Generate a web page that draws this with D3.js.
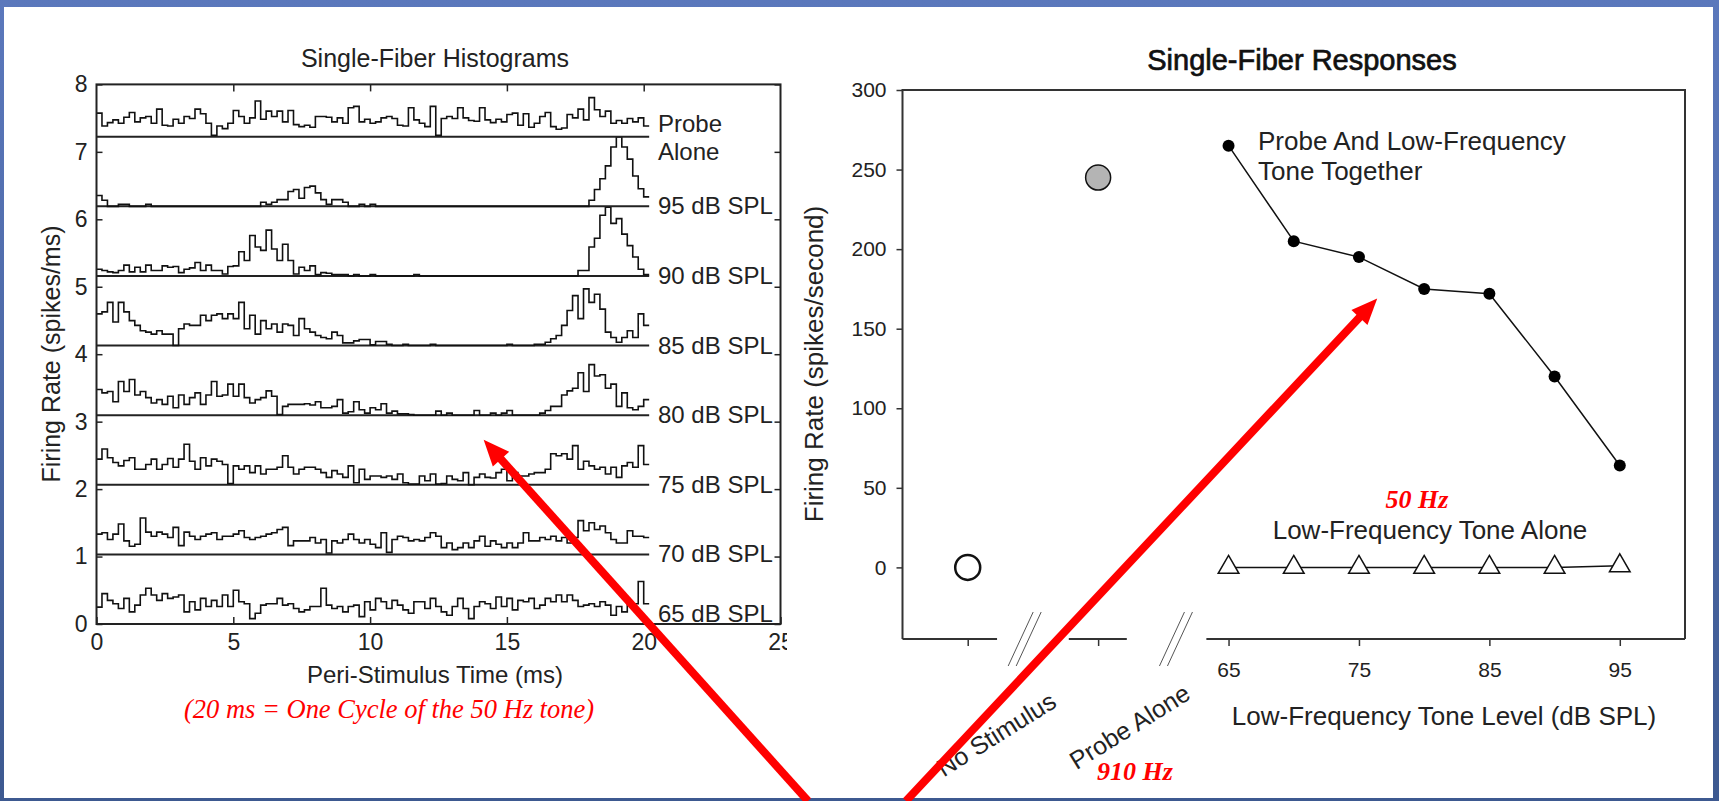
<!DOCTYPE html>
<html>
<head>
<meta charset="utf-8">
<script src="https://cdn.jsdelivr.net/npm/d3@7"></script>
<style>
  body { margin: 0; background: #fff; }
  svg { display: block; }
</style>
</head>
<body>
<svg id="chart" width="1719" height="801"></svg>
<script>
// ---- left panel: peri-stimulus time histograms, 0.2 ms bins, values in spikes/ms above each row baseline
const binWidth = 0.2;
const psthTicks = [0, 5, 10, 15, 20, 25];
const rateTicks = [0, 1, 2, 3, 4, 5, 6, 7, 8];

const probeAlone = [0.35,0.16,0.21,0.25,0.2,0.29,0.36,0.22,0.28,0.3,
  0.2,0.41,0.17,0.16,0.26,0.2,0.3,0.27,0.41,0.34,
  0.2,0.02,0.16,0.12,0.2,0.39,0.3,0.2,0.28,0.53,
  0.26,0.38,0.3,0.38,0.22,0.39,0.18,0.15,0.17,0.14,
  0.3,0.3,0.29,0.22,0.28,0.2,0.43,0.45,0.22,0.26,
  0.2,0.22,0.28,0.3,0.27,0.17,0.16,0.43,0.25,0.2,
  0.15,0.45,0.02,0.27,0.3,0.27,0.43,0.28,0.24,0.23,
  0.43,0.25,0.21,0.26,0.22,0.33,0.35,0.17,0.34,0.14,
  0.2,0.3,0.36,0.15,0.11,0.13,0.33,0.28,0.41,0.25,
  0.58,0.4,0.3,0.38,0.2,0.24,0.2,0.27,0.22,0.28,
  0.16];
const db95 = [0.16,0.09,0,0,0.03,0.03,0,0,0,0.03,
  0,0,0,0,0,0,0,0,0,0,
  0,0,0,0,0,0,0,0,0,0,
  0.06,0.03,0.06,0.1,0.1,0.22,0.25,0.12,0.28,0.3,
  0.2,0.1,0.03,0.1,0.1,0.06,0,0,0.03,0,
  0.03,0,0,0,0,0,0,0,0,0,
  0,0,0,0,0,0,0,0,0,0,
  0,0,0,0,0,0,0,0,0,0,
  0,0,0,0,0,0,0,0,0,0,
  0.09,0.25,0.41,0.6,0.88,1.03,0.88,0.7,0.45,0.26,
  0.14];
const db90 = [0.1,0.08,0.06,0.05,0.08,0.16,0.06,0.13,0.06,0.16,
  0.08,0.08,0.15,0.13,0.14,0.05,0.1,0.12,0.2,0.08,
  0.16,0.08,0.08,0.03,0.14,0.15,0.36,0.23,0.6,0.43,
  0.38,0.68,0.4,0.23,0.47,0.23,0.03,0.13,0.08,0.15,
  0.02,0.05,0.04,0.02,0.02,0.02,0,0.02,0,0,
  0.02,0,0,0,0,0,0,0,0.02,0,
  0,0,0,0,0,0,0,0,0,0,
  0,0,0,0,0,0,0,0,0,0,
  0,0,0,0,0,0,0,0,0.08,0.08,
  0.43,0.56,0.9,1.02,0.78,0.85,0.62,0.45,0.28,0.1,
  0.02];
const db85 = [0.47,0.5,0.64,0.35,0.64,0.5,0.37,0.3,0.22,0.2,
  0.17,0.22,0.17,0.17,0,0.25,0.32,0.3,0.3,0.45,
  0.37,0.45,0.47,0.4,0.47,0.4,0.64,0.25,0.45,0.17,
  0.37,0.25,0.32,0.2,0.32,0.3,0.15,0.4,0.25,0.2,
  0.15,0.12,0.1,0.2,0.15,0.04,0.04,0.07,0.09,0.09,
  0.01,0.06,0.06,0.02,0,0,0.02,0,0,0,
  0,0.02,0,0,0,0,0,0,0,0,
  0,0,0,0,0,0.02,0,0,0,0,
  0.02,0.02,0.05,0.1,0.15,0.3,0.52,0.74,0.4,0.84,
  0.64,0.76,0.54,0.2,0.12,0.05,0.12,0.22,0.12,0.47,
  0.3];
const db80 = [0.38,0.33,0.35,0.2,0.5,0.35,0.53,0.3,0.35,0.26,
  0.18,0.23,0.16,0.28,0.11,0.3,0.16,0.26,0.33,0.16,
  0.3,0.5,0.28,0.3,0.46,0.28,0.46,0.26,0.18,0.23,
  0.26,0.36,0.28,0.01,0.13,0.16,0.16,0.16,0.17,0.15,
  0.2,0.11,0.11,0.13,0.23,0.03,0.05,0.2,0.08,0.03,
  0.11,0.08,0.17,0.03,0.06,0.02,0.02,0.01,0,0,
  0,0,0.06,0,0.03,0,0,0,0,0.07,
  0,0,0.03,0,0.03,0.07,0,0,0,0,
  0,0.03,0.07,0.13,0.13,0.3,0.36,0.4,0.63,0.35,
  0.75,0.58,0.6,0.4,0.46,0.13,0.33,0.11,0.08,0.13,
  0.23];
const db75 = [0.38,0.53,0.4,0.33,0.28,0.36,0.4,0.23,0.23,0.3,
  0.38,0.23,0.3,0.39,0.26,0.38,0.6,0.35,0.23,0.4,
  0.28,0.38,0.35,0.3,0.02,0.28,0.23,0.28,0.18,0.28,
  0.16,0.23,0.23,0.26,0.43,0.26,0.16,0.23,0.26,0.26,
  0.23,0.18,0.11,0.21,0.16,0.11,0.28,0.03,0.23,0.08,
  0.13,0.13,0.11,0.13,0.08,0.16,0.03,0.01,0.01,0.13,
  0.06,0.16,0.01,0.02,0.13,0.08,0.06,0.18,0,0.11,
  0.16,0.11,0.1,0.18,0.23,0.06,0.18,0.13,0.13,0.16,
  0.18,0.18,0.23,0.46,0.43,0.46,0.38,0.58,0.23,0.35,
  0.28,0.23,0.26,0.16,0.26,0.11,0.28,0.33,0.26,0.58,
  0.3];
const db70 = [0.3,0.32,0.22,0.3,0.45,0.2,0.12,0.15,0.54,0.33,
  0.27,0.33,0.3,0.25,0.4,0.13,0.33,0.27,0.22,0.27,
  0.3,0.32,0.22,0.27,0.27,0.3,0.35,0.25,0.22,0.25,
  0.27,0.3,0.32,0.37,0.4,0.13,0.2,0.2,0.2,0.25,
  0.17,0.22,0.02,0.2,0.17,0.22,0.3,0.22,0.17,0.22,
  0.15,0.1,0.32,0.03,0.22,0.27,0.25,0.2,0.22,0.2,
  0.25,0.32,0.27,0.1,0.17,0.07,0.1,0.17,0.1,0.2,
  0.27,0.12,0.2,0.15,0.1,0.17,0.1,0.17,0.32,0.2,
  0.2,0.25,0.22,0.27,0.2,0.25,0.17,0.25,0.5,0.35,
  0.47,0.37,0.42,0.32,0.22,0.17,0.17,0.35,0.27,0.27,
  0.25];
const db65 = [0.25,0.45,0.35,0.3,0.23,0.38,0.18,0.28,0.43,0.53,
  0.43,0.35,0.45,0.38,0.4,0.43,0.18,0.33,0.21,0.38,
  0.26,0.35,0.26,0.43,0.26,0.5,0.33,0.3,0.08,0.16,
  0.28,0.3,0.3,0.38,0.28,0.3,0.23,0.18,0.21,0.26,
  0.26,0.53,0.28,0.23,0.26,0.18,0.26,0.28,0.11,0.33,
  0.21,0.38,0.33,0.23,0.35,0.28,0.21,0.16,0.33,0.33,
  0.23,0.38,0.26,0.18,0.13,0.26,0.38,0.23,0.08,0.26,
  0.33,0.3,0.23,0.4,0.26,0.38,0.21,0.35,0.33,0.38,
  0.23,0.28,0.38,0.33,0.43,0.33,0.43,0.35,0.26,0.28,
  0.3,0.26,0.33,0.28,0.13,0.26,0.18,0.3,0.3,0.63,
  0.3];

// bottom row first
const histRows = [db65, db70, db75, db80, db85, db90, db95, probeAlone];
const histLabels = [['65 dB SPL'], ['70 dB SPL'], ['75 dB SPL'], ['80 dB SPL'], ['85 dB SPL'],
  ['90 dB SPL'], ['95 dB SPL'], ['Probe', 'Alone']];

// ---- right panel: average rates
const toneLevels = [65, 70, 75, 80, 85, 90, 95];
const rateTogether = [265, 205, 195, 175, 172, 120, 64];
const rateToneAlone = [0, 0, 0, 0, 0, 0, 1];
const controlNames = ['No Stimulus', 'Probe Alone'];
const controlRates = [0, 245];
const responseTicks = [0, 50, 100, 150, 200, 250, 300];
const levelTicks = [65, 75, 85, 95];

const W = 1719, H = 801;
const svg = d3.select('#chart')
  .attr('font-family', 'Liberation Sans, Arial, sans-serif');
const defs = svg.append('defs');

// slide frame
const grad = defs.append('linearGradient').attr('id', 'frame')
  .attr('x1', 0).attr('y1', 0).attr('x2', 0).attr('y2', 1);
grad.append('stop').attr('offset', '0%').attr('stop-color', '#5b78bc');
grad.append('stop').attr('offset', '100%').attr('stop-color', '#3d5990');
svg.append('rect').attr('width', W).attr('height', H).attr('fill', 'url(#frame)');
svg.append('rect').attr('x', 4).attr('y', 7).attr('width', W - 10).attr('height', H - 10).attr('fill', '#fff');

function label(g, x, y, str, o) {
  o = o || {};
  const t = g.append('text').attr('x', x).attr('y', y).text(str)
    .attr('font-size', o.size || 24)
    .attr('text-anchor', o.anchor || 'start')
    .attr('fill', o.fill || '#222');
  if (o.family) t.attr('font-family', o.family);
  if (o.style) t.attr('font-style', o.style);
  if (o.weight) t.attr('font-weight', o.weight);
  if (o.heavy) t.attr('stroke', t.attr('fill')).attr('stroke-width', o.heavy);
  if (o.width) t.attr('textLength', o.width).attr('lengthAdjust', 'spacingAndGlyphs');
  if (o.rotate) t.attr('transform', 'rotate(' + o.rotate + ',' + x + ',' + y + ')');
  return t;
}

function styleAxis(g, size) {
  g.select('.domain').remove();
  g.selectAll('line').attr('stroke', '#222').attr('stroke-width', 1.5);
  g.selectAll('text').attr('font-size', size).attr('fill', '#222').attr('font-family', null);
}

// ================= left panel =================
const xL = d3.scaleLinear().domain([0, 25]).range([96.5, 780.5]);
const yL = d3.scaleLinear().domain([0, 8]).range([624, 84.4]);
defs.append('clipPath').attr('id', 'clipL')
  .append('rect').attr('x', 0).attr('y', 0).attr('width', 787).attr('height', H);
const gL = svg.append('g').attr('clip-path', 'url(#clipL)');

const rowStep = 1.032;
const step = d3.line()
  .x(function (d) { return xL(d[0]); })
  .y(function (d) { return yL(d[1]); })
  .curve(d3.curveStepAfter);

histRows.forEach(function (vals, k) {
  const base = k * rowStep;
  const end = vals.length * binWidth;
  const pts = vals.map(function (v, i) { return [i * binWidth, base + v]; });
  pts.push([end, base + vals[vals.length - 1]]);
  gL.append('line')
    .attr('x1', xL(0)).attr('x2', xL(end))
    .attr('y1', yL(base)).attr('y2', yL(base))
    .attr('stroke', '#222').attr('stroke-width', 2);
  gL.append('path').attr('d', step(pts))
    .attr('fill', 'none').attr('stroke', '#111').attr('stroke-width', 1.6);

  const lines = histLabels[k];
  if (lines.length === 2) {
    label(gL, 658, 132, lines[0], { size: 24 });
    label(gL, 658, 160, lines[1], { size: 24 });
  } else {
    const dy = k === 0 ? -2 : 8;
    label(gL, 658, yL(base) + dy, lines[0], { size: 24 });
  }
});

const axB = gL.append('g').attr('transform', 'translate(0,' + yL(0) + ')')
  .call(d3.axisBottom(xL).tickValues(psthTicks).tickSize(-7).tickPadding(10));
styleAxis(axB, 23);
const axT = gL.append('g').attr('transform', 'translate(0,' + yL(8) + ')')
  .call(d3.axisTop(xL).tickValues([5, 10, 15, 20]).tickSize(-7).tickFormat(''));
styleAxis(axT, 23);
const axLf = gL.append('g').attr('transform', 'translate(' + xL(0) + ',0)')
  .call(d3.axisLeft(yL).tickValues(rateTicks).tickSize(-6).tickPadding(9));
styleAxis(axLf, 23);
const axRt = gL.append('g').attr('transform', 'translate(' + xL(25) + ',0)')
  .call(d3.axisRight(yL).tickValues(rateTicks).tickSize(-6).tickFormat(''));
styleAxis(axRt, 23);

gL.append('rect')
  .attr('x', xL(0)).attr('y', yL(8))
  .attr('width', xL(25) - xL(0)).attr('height', yL(0) - yL(8))
  .attr('fill', 'none').attr('stroke', '#222').attr('stroke-width', 2);

label(gL, 435, 67, 'Single-Fiber Histograms', { size: 25, anchor: 'middle' });
label(gL, 435, 683, 'Peri-Stimulus Time (ms)', { size: 24, anchor: 'middle' });
label(gL, 60, 354, 'Firing Rate (spikes/ms)', { size: 25, anchor: 'middle', rotate: -90 });
label(svg, 389, 718, '(20 ms = One Cycle of the 50 Hz tone)', {
  size: 28, anchor: 'middle', family: 'Liberation Serif, Times New Roman, serif',
  style: 'italic', fill: '#ff0000', width: 410
});

// ================= right panel =================
const xR = d3.scaleLinear().domain([40, 100]).range([902.5, 1685]);
const yR = d3.scaleLinear().domain([-45, 300]).range([639, 90]);
const gR = svg.append('g');
const frameColor = '#333';

// box: left, top, right sides, broken bottom axis
gR.append('path')
  .attr('d', 'M' + xR(40) + ',' + yR(-45) + 'V' + yR(300) + 'H' + xR(100) + 'V' + yR(-45))
  .attr('fill', 'none').attr('stroke', frameColor).attr('stroke-width', 2);
const bottomSegments = [[40, 47.25], [52.75, 57.2], [63.3, 100]];
bottomSegments.forEach(function (s) {
  gR.append('line')
    .attr('x1', xR(s[0])).attr('x2', xR(s[1]))
    .attr('y1', yR(-45)).attr('y2', yR(-45))
    .attr('stroke', frameColor).attr('stroke-width', 2);
});
const axisBreaks = [49.1, 60.7];
axisBreaks.forEach(function (b) {
  const c = xR(b);
  [0, 8].forEach(function (off) {
    gR.append('line')
      .attr('x1', c + 12 + off).attr('y1', yR(-45) - 27)
      .attr('x2', c - 13 + off).attr('y2', yR(-45) + 27)
      .attr('stroke', '#555').attr('stroke-width', 1);
  });
});

const axRL = gR.append('g').attr('transform', 'translate(' + xR(40) + ',0)')
  .call(d3.axisLeft(yR).tickValues(responseTicks).tickSize(6).tickPadding(10));
styleAxis(axRL, 21);
axRL.selectAll('line').attr('stroke', frameColor);
const axRB = gR.append('g').attr('transform', 'translate(0,' + yR(-45) + ')')
  .call(d3.axisBottom(xR).tickValues([45, 55].concat(levelTicks)).tickSize(7).tickPadding(16)
    .tickFormat(function (d) { return levelTicks.indexOf(d) >= 0 ? d : ''; }));
styleAxis(axRB, 21);
axRB.selectAll('line').attr('stroke', frameColor);

// probe + low-frequency tone together
const lineR = d3.line()
  .x(function (d, i) { return xR(toneLevels[i]); })
  .y(function (d) { return yR(d); });
gR.append('path').attr('d', lineR(rateTogether))
  .attr('fill', 'none').attr('stroke', '#111').attr('stroke-width', 1.5);
gR.selectAll('.dot').data(rateTogether).enter().append('circle')
  .attr('class', 'dot')
  .attr('cx', function (d, i) { return xR(toneLevels[i]); })
  .attr('cy', function (d) { return yR(d); })
  .attr('r', 6).attr('fill', '#000');

// low-frequency tone alone
gR.append('path').attr('d', lineR(rateToneAlone))
  .attr('fill', 'none').attr('stroke', '#111').attr('stroke-width', 1.5);
const tri = d3.symbol().type(d3.symbolTriangle).size(185);
gR.selectAll('.tri').data(rateToneAlone).enter().append('path')
  .attr('class', 'tri')
  .attr('d', tri)
  .attr('transform', function (d, i) { return 'translate(' + xR(toneLevels[i]) + ',' + yR(d) + ')'; })
  .attr('fill', '#fff').attr('stroke', '#111').attr('stroke-width', 1.5);

// control conditions on the broken part of the axis
const controlPos = [45, 55];
gR.selectAll('.ctrl').data(controlRates).enter().append('circle')
  .attr('class', 'ctrl')
  .attr('cx', function (d, i) { return xR(controlPos[i]); })
  .attr('cy', function (d) { return yR(d); })
  .attr('r', 12.5)
  .attr('fill', function (d, i) { return i === 0 ? '#fff' : '#b4b4b4'; })
  .attr('stroke', '#111')
  .attr('stroke-width', function (d, i) { return i === 0 ? 2.5 : 1.5; });

label(gR, 1302, 70, 'Single-Fiber Responses', { size: 29, anchor: 'middle', fill: '#111', heavy: 0.7 });
label(gR, 1258, 150, 'Probe And Low-Frequency', { size: 26 });
label(gR, 1258, 180, 'Tone Together', { size: 26 });
label(gR, 1430, 539, 'Low-Frequency Tone Alone', { size: 26, anchor: 'middle' });
label(gR, 1444, 725, 'Low-Frequency Tone Level (dB SPL)', { size: 26, anchor: 'middle' });
label(gR, 823, 364, 'Firing Rate (spikes/second)', { size: 26, anchor: 'middle', rotate: -90 });
label(gR, 1058, 706, controlNames[0], { size: 25, anchor: 'end', rotate: -32 });
label(gR, 1192, 698, controlNames[1], { size: 25, anchor: 'end', rotate: -32 });

const redSerif = { size: 26, anchor: 'middle', family: 'Liberation Serif, Times New Roman, serif',
  style: 'italic', weight: 'bold', fill: '#ff0000' };
label(gR, 1417, 508, '50 Hz', redSerif);
label(gR, 1135, 780, '910 Hz', redSerif);

// ================= red arrows =================
function arrow(x1, y1, x2, y2) {
  const a = Math.atan2(y2 - y1, x2 - x1);
  const len = 26, hw = 11;
  const bx = x2 - len * Math.cos(a), by = y2 - len * Math.sin(a);
  svg.append('line')
    .attr('x1', x1).attr('y1', y1).attr('x2', bx + 2 * Math.cos(a)).attr('y2', by + 2 * Math.sin(a))
    .attr('stroke', '#ff0000').attr('stroke-width', 8);
  svg.append('path')
    .attr('d', 'M' + x2 + ',' + y2 +
      'L' + (bx + hw * Math.sin(a)) + ',' + (by - hw * Math.cos(a)) +
      'L' + (bx - hw * Math.sin(a)) + ',' + (by + hw * Math.cos(a)) + 'Z')
    .attr('fill', '#ff0000');
}
arrow(808, 801, xL(14.15), yL(2.73));
arrow(906, 801, xR(76.4), yR(169));
</script>
</body>
</html>
